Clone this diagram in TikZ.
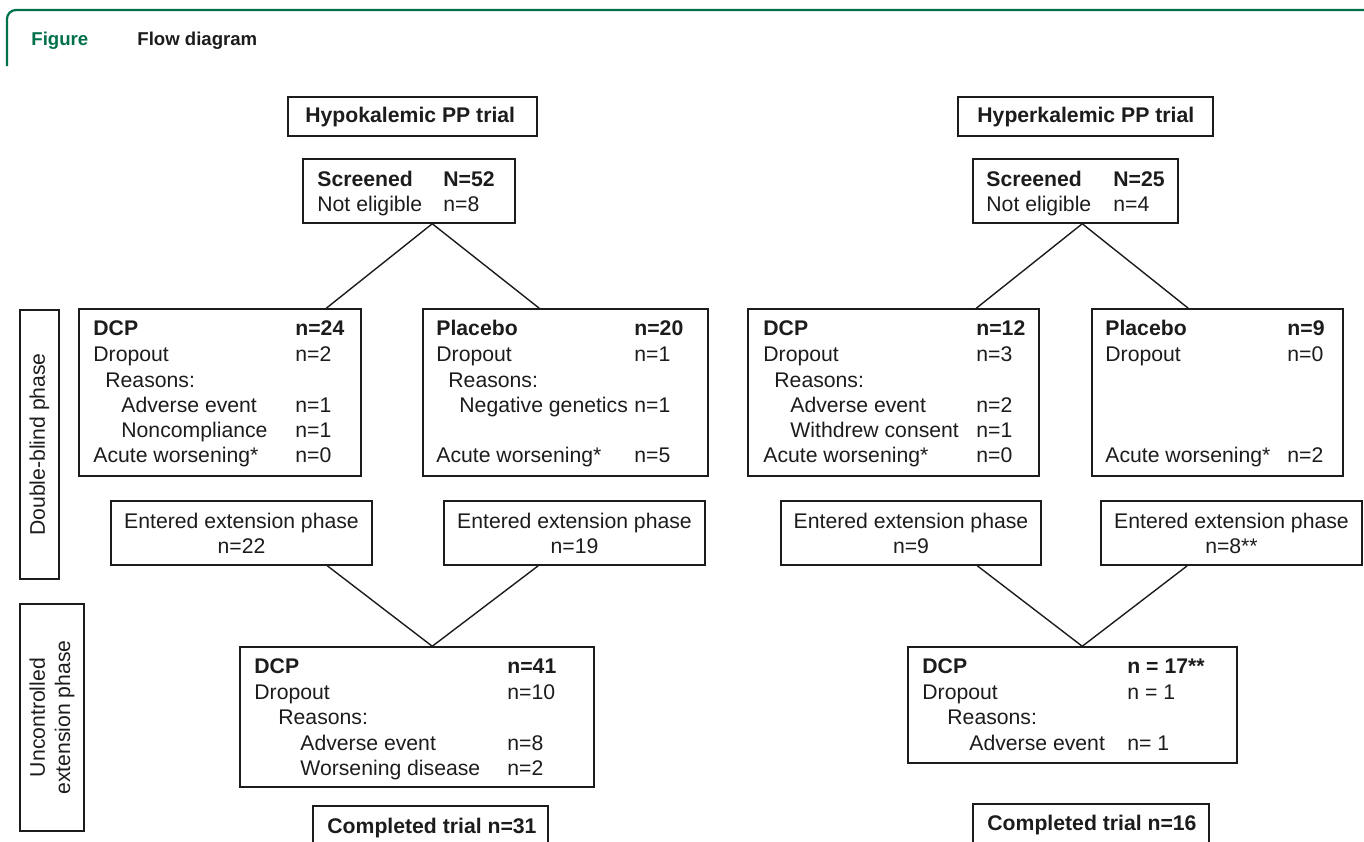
\documentclass[tikz,border=0pt]{standalone}
\usepackage{fontspec}
\setmainfont{Liberation Sans}
\usetikzlibrary{fit,calc}
\definecolor{hdrgreen}{RGB}{0,112,74}
\definecolor{ink}{RGB}{28,28,28}
\tikzset{
  box/.style={draw=ink, line width=0.75pt, inner sep=0pt},
  txt/.style={anchor=base west, inner sep=0pt, text=ink, font=\fontsize{10.6}{12.7}\selectfont},
  ctxt/.style={txt, anchor=base},
  rtxt/.style={inner sep=0pt, text=ink, font=\fontsize{10.6}{12.7}\selectfont, rotate=90, align=center},
  conn/.style={draw=ink, line width=0.7pt},
  hdr/.style={anchor=base west, inner sep=0pt, font=\fontsize{9.3}{11}\selectfont\bfseries},
}
\newcommand{\bx}[5]{\node[box, fit={(#2,#3) (#4,#5)}] (#1) {};}
\newcommand{\tx}[4]{\node[txt] (#1) at (#2,#3) {#4};}
\begin{document}
\begin{tikzpicture}[x=0.5pt,y=-0.5pt]
\useasboundingbox (0,0) rectangle (1364,841);
\clip (0,0) rectangle (1364,841);
% header
\draw[hdrgreen, line width=1.1pt, rounded corners=4.5pt] (7,66) -- (7,10) -- (1372,10);
\node[hdr, text=hdrgreen] (hfig) at (31,45) {Figure};
\node[hdr, text=ink] (htitle) at (137,45) {Flow diagram};

% phase boxes
\bx{ph1}{20}{310}{59}{579}
\node[rtxt] (ph1t) at (ph1.center) {Double-blind phase};
\bx{ph2}{20}{604}{84}{831}
\node[rtxt] (ph2t) at (ph2.center) {Uncontrolled\\extension phase};

% ===== Left trial =====
\bx{tl}{288}{97}{537}{136}
\tx{tlt}{305}{122}{\bfseries Hypokalemic PP trial}
\bx{sl}{303}{159}{515}{223}
\tx{sla}{317}{186}{\bfseries Screened}
\tx{slb}{443}{186}{\bfseries N=52}
\tx{slc}{317}{211}{Not eligible}
\tx{sld}{443}{211}{n=8}

\bx{dl}{79}{309}{361}{476}
\tx{dl1}{93}{335}{\bfseries DCP}
\tx{dl1n}{295}{335}{\bfseries n=24}
\tx{dl2}{93}{361}{Dropout}
\tx{dl2n}{295}{361}{n=2}
\tx{dl3}{105}{387}{Reasons:}
\tx{dl4}{121}{412}{Adverse event}
\tx{dl4n}{295}{412}{n=1}
\tx{dl5}{121}{437}{Noncompliance}
\tx{dl5n}{295}{437}{n=1}
\tx{dl6}{93}{462}{Acute worsening*}
\tx{dl6n}{295}{462}{n=0}

\bx{pl}{423}{309}{708}{476}
\tx{pl1}{436}{335}{\bfseries Placebo}
\tx{pl1n}{634}{335}{\bfseries n=20}
\tx{pl2}{436}{361}{Dropout}
\tx{pl2n}{634}{361}{n=1}
\tx{pl3}{448}{387}{Reasons:}
\tx{pl4}{459}{412}{Negative genetics}
\tx{pl4n}{634}{412}{n=1}
\tx{pl6}{436}{462}{Acute worsening*}
\tx{pl6n}{634}{462}{n=5}

\bx{el1}{111}{501}{372}{565}
\node[ctxt] (el1a) at (241.5,528) {Entered extension phase};
\node[ctxt] (el1b) at (241.5,553) {n=22};
\bx{el2}{444}{501}{705}{565}
\node[ctxt] (el2a) at (574.5,528) {Entered extension phase};
\node[ctxt] (el2b) at (574.5,553) {n=19};

\bx{xl}{240}{647}{594}{787}
\tx{xl1}{254}{673}{\bfseries DCP}
\tx{xl1n}{507}{673}{\bfseries n=41}
\tx{xl2}{254}{699}{Dropout}
\tx{xl2n}{507}{699}{n=10}
\tx{xl3}{278}{724}{Reasons:}
\tx{xl4}{300}{750}{Adverse event}
\tx{xl4n}{507}{750}{n=8}
\tx{xl5}{300}{775}{Worsening disease}
\tx{xl5n}{507}{775}{n=2}

\bx{cl}{313}{806}{548}{860}
\tx{clt}{327}{833}{\bfseries Completed trial n=31}

\coordinate (sla0) at ($(sl.south west)+(130,0)$);
\draw[conn] (sla0) -- ($(dl.north west)+(248,0)$);
\draw[conn] (sla0) -- ($(pl.north west)+(117,0)$);
\coordinate (xla0) at ($(xl.north west)+(193,0)$);
\draw[conn] ($(el1.south west)+(217,0)$) -- (xla0);
\draw[conn] ($(el2.south west)+(95,0)$) -- (xla0);

% ===== Right trial =====
\bx{tr}{958}{97}{1213}{136}
\tx{trt}{977}{122}{\bfseries Hyperkalemic PP trial}
\bx{sr}{973}{159}{1178}{223}
\tx{sra}{986}{186}{\bfseries Screened}
\tx{srb}{1113}{186}{\bfseries N=25}
\tx{src}{986}{211}{Not eligible}
\tx{srd}{1113}{211}{n=4}

\bx{dr}{748}{309}{1039}{476}
\tx{dr1}{763}{335}{\bfseries DCP}
\tx{dr1n}{976}{335}{\bfseries n=12}
\tx{dr2}{763}{361}{Dropout}
\tx{dr2n}{976}{361}{n=3}
\tx{dr3}{774}{387}{Reasons:}
\tx{dr4}{790}{412}{Adverse event}
\tx{dr4n}{976}{412}{n=2}
\tx{dr5}{790}{437}{Withdrew consent}
\tx{dr5n}{976}{437}{n=1}
\tx{dr6}{763}{462}{Acute worsening*}
\tx{dr6n}{976}{462}{n=0}

\bx{pr}{1092}{309}{1343}{476}
\tx{pr1}{1105}{335}{\bfseries Placebo}
\tx{pr1n}{1287}{335}{\bfseries n=9}
\tx{pr2}{1105}{361}{Dropout}
\tx{pr2n}{1287}{361}{n=0}
\tx{pr6}{1105}{462}{Acute worsening*}
\tx{pr6n}{1287}{462}{n=2}

\bx{er1}{781}{501}{1041}{565}
\node[ctxt] (er1a) at (911,528) {Entered extension phase};
\node[ctxt] (er1b) at (911,553) {n=9};
\bx{er2}{1101}{501}{1362}{565}
\node[ctxt] (er2a) at (1231.5,528) {Entered extension phase};
\node[ctxt] (er2b) at (1231.5,553) {n=8**};

\bx{xr}{908}{647}{1237}{763}
\tx{xr1}{922}{673}{\bfseries DCP}
\tx{xr1n}{1127}{673}{\bfseries n = 17**}
\tx{xr2}{922}{699}{Dropout}
\tx{xr2n}{1127}{699}{n = 1}
\tx{xr3}{947}{724}{Reasons:}
\tx{xr4}{969}{750}{Adverse event}
\tx{xr4n}{1127}{750}{n= 1}

\bx{cr}{973}{804}{1209}{860}
\tx{crt}{987}{830}{\bfseries Completed trial n=16}

\coordinate (sra0) at ($(sr.south west)+(110,0)$);
\draw[conn] (sra0) -- ($(dr.north west)+(229,0)$);
\draw[conn] (sra0) -- ($(pr.north west)+(97,0)$);
\coordinate (xra0) at ($(xr.north west)+(175,0)$);
\draw[conn] ($(er1.south west)+(197,0)$) -- (xra0);
\draw[conn] ($(er2.south west)+(87,0)$) -- (xra0);
\end{tikzpicture}
\end{document}
